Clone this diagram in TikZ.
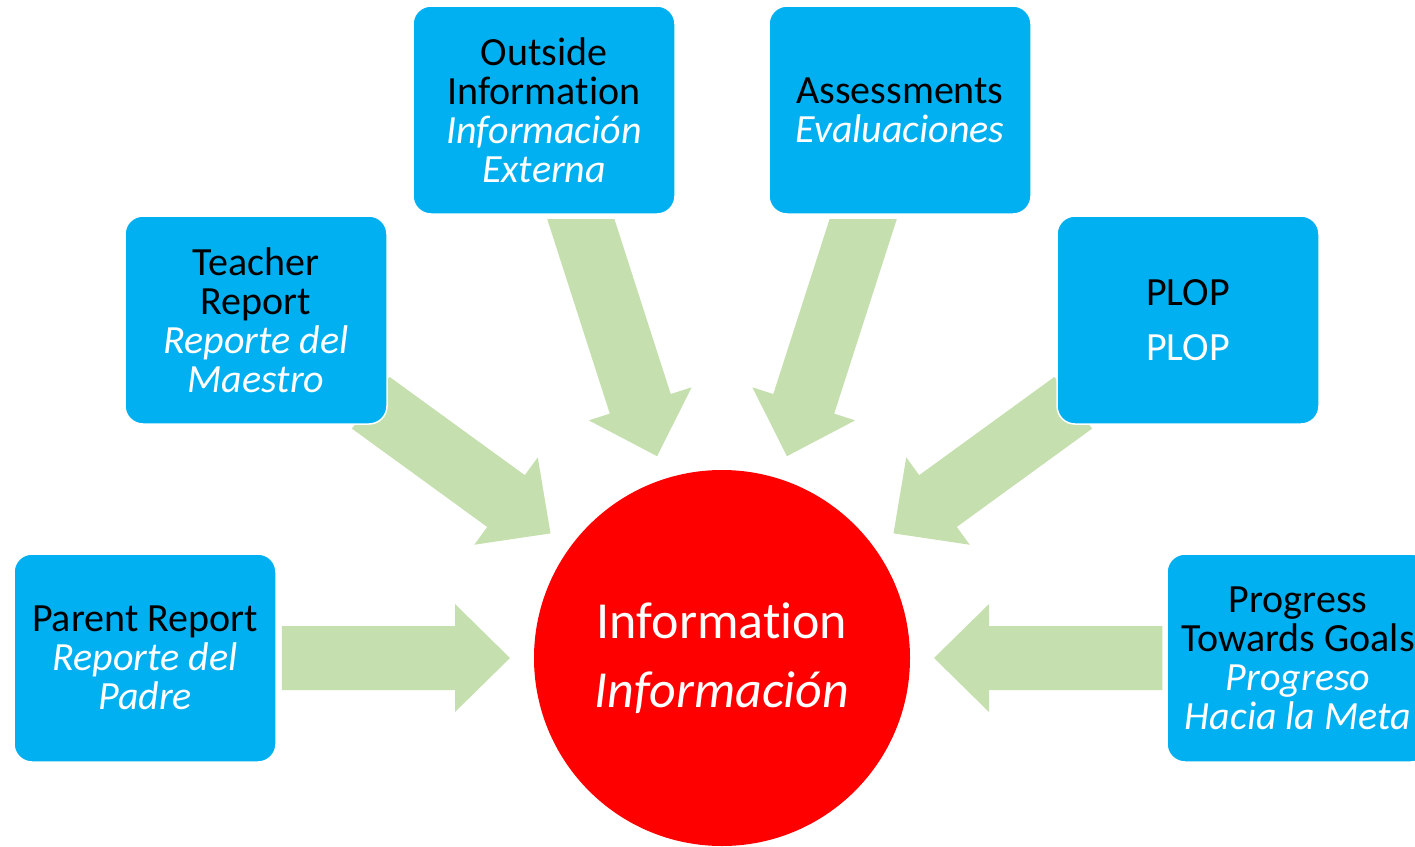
\documentclass[tikz,border=0pt]{standalone}
\usepackage{fontspec}
\setmainfont{Carlito}[Ligatures=NoCommon]
\usetikzlibrary{calc,backgrounds}
\definecolor{boxblue}{HTML}{00B0F0}
\definecolor{arrowgreen}{HTML}{C5DFAE}
\definecolor{hubred}{HTML}{FF0000}
\newcommand\spn[1]{{\color{white}\itshape #1}}
\newcommand\blockarrow[3]{%
  \coordinate (#3-h) at ($(#2)!55pt!(#1)$);
  \fill[arrowfill] ($(#1)!32pt!90:(#2)$) -- ($(#3-h)!32pt!90:(#2)$) -- ($(#3-h)!54pt!90:(#2)$) -- (#2)
    -- ($(#3-h)!54pt!-90:(#2)$) -- ($(#3-h)!32pt!-90:(#2)$) -- ($(#1)!32pt!-90:(#2)$) -- cycle;}
\begin{document}
\begin{tikzpicture}[x=1pt,y=-1pt,
  infobox/.style={fill=boxblue, draw=white, line width=1.5pt, rounded corners=18pt,
    minimum width=262pt, minimum height=208pt, align=center, inner sep=0pt,
    font=\fontsize{40}{39}\selectfont},
  hub/.style={circle, fill=hubred, minimum size=376pt, inner sep=0pt, align=center,
    text=white, font=\fontsize{52}{69}\selectfont},
  arrowfill/.style={fill=arrowgreen}]
\useasboundingbox (0,0) rectangle (1415,846);

\node[hub] (hub) at (722,658) {Information\\\textit{Información}};
\node[infobox] (outside) at (544,110) {Outside\\Information\\\spn{Información}\\\spn{Externa}};
\node[infobox] (assess) at (900,110) {Assessments\\\spn{Evaluaciones}};
\node[infobox] (teacher) at (256,320) {Teacher\\Report\\\spn{Reporte del}\\\spn{Maestro}};
\node[infobox] (plop) at (1188,320) {PLOP\\[16pt]{\color{white}PLOP}};
\node[infobox] (parent) at (145,658) {Parent Report\\\spn{Reporte del}\\\spn{Padre}};
\node[infobox] (progress) at (1298,658) {Progress\\Towards Goals\\\spn{Progreso}\\\spn{Hacia la Meta}};

\begin{scope}[on background layer]
  \coordinate (pa-s) at ($(parent.east)+(5,0)$);
  \coordinate (pg-s) at ($(progress.west)+(-4,0)$);
  \coordinate (tr-s) at ($(teacher.south east)+(-17,-22)$);
  \coordinate (pl-s) at ($(plop.south west)+(17,-22)$);
  \coordinate (oi-s) at ($(outside.south)+(29,-20)$);
  \coordinate (as-s) at ($(assess.south)+(-29,-20)$);
  \foreach \s in {pa,pg,tr,pl,oi,as}{
    \coordinate (\s-t) at ($(hub.center)!212pt!(\s-s)$);
  }
  \blockarrow{pa-s}{pa-t}{pa}
  \blockarrow{pg-s}{pg-t}{pg}
  \blockarrow{tr-s}{tr-t}{tr}
  \blockarrow{pl-s}{pl-t}{pl}
  \begin{scope}
    \clip (0,219) rectangle (1415,846);
    \blockarrow{oi-s}{oi-t}{oi}
    \blockarrow{as-s}{as-t}{as}
  \end{scope}
\end{scope}
\end{tikzpicture}
\end{document}
